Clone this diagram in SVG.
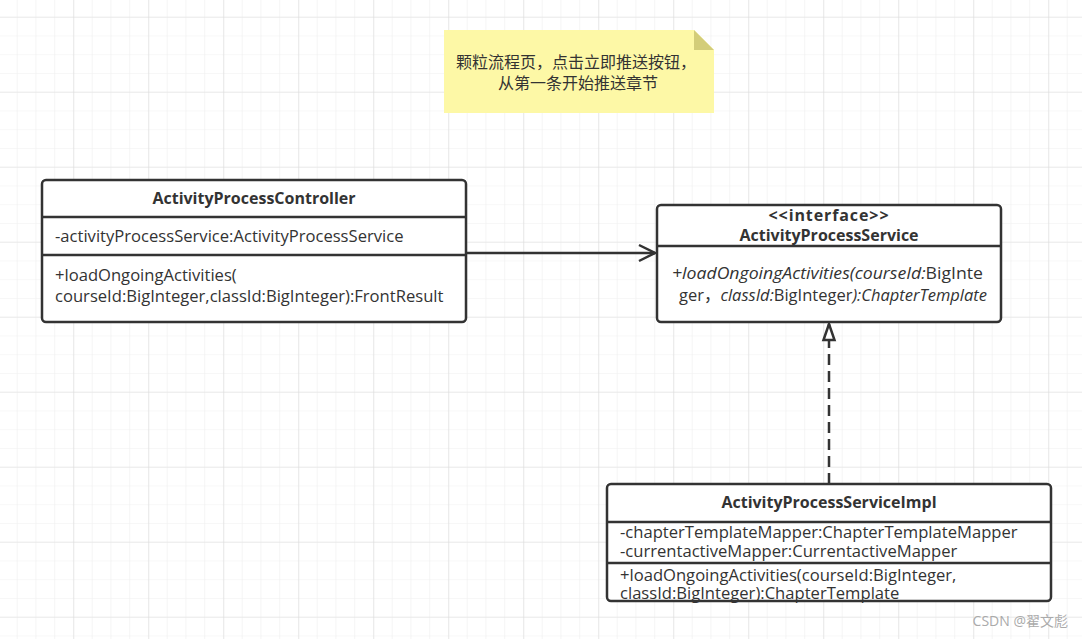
<svg xmlns="http://www.w3.org/2000/svg" width="1082" height="639" viewBox="0 0 1082 639">
<style>
text{font-family:"Open Sans","Noto Sans CJK SC",sans-serif;fill:#333;font-size:16.6px}
.b{font-weight:bold;font-size:16px}
.i{font-style:italic}
.n{font-size:16px}
.box{fill:#fff;stroke:#333;stroke-width:2.5}
.ln{stroke:#333;stroke-width:2.5;fill:none}
</style>
<defs>
<pattern id="minor" x="-2.05" y="-2.05" width="18.75" height="18.75" patternUnits="userSpaceOnUse">
<path d="M0 0H18.75M0 0V18.75" stroke="#efefef" stroke-width="1.2" fill="none"/>
</pattern>
<pattern id="major" x="-1.7" y="16.7" width="75" height="75" patternUnits="userSpaceOnUse">
<path d="M0 0H75M0 0V75" stroke="#dedede" stroke-width="1.2" fill="none"/>
</pattern>
<marker id="open" viewBox="0 0 20 20" refX="18" refY="10" markerWidth="20" markerHeight="20" markerUnits="userSpaceOnUse" orient="auto">
<path d="M2 2L18 10L2 18" fill="none" stroke="#333" stroke-width="2.5"/>
</marker>
<marker id="tri" viewBox="0 0 20 20" refX="18" refY="10" markerWidth="20" markerHeight="20" markerUnits="userSpaceOnUse" orient="auto">
<path d="M2 4.5L18 10L2 15.5Z" fill="#fff" stroke="#333" stroke-width="2.5"/>
</marker>
</defs>
<rect width="1082" height="639" fill="#fff"/>
<rect width="1082" height="639" fill="url(#minor)"/>
<rect width="1082" height="639" fill="url(#major)"/>

<g id="note">
<path d="M444 30H694L714 50V113H444Z" fill="#fdf8a6"/>
<path d="M694 30L714 50H694Z" fill="#d3cd79"/>
<text class="n" x="576" y="68" text-anchor="middle">颗粒流程页，点击立即推送按钮，</text>
<text class="n" x="578" y="89" text-anchor="middle">从第一条开始推送章节</text>
</g>

<g id="connectors">
<path class="ln" d="M467 253H655" marker-end="url(#open)"/>
<path class="ln" d="M829 484V324" stroke-width="3" stroke-dasharray="11 6" marker-end="url(#tri)"/>
</g>

<g id="ActivityProcessController">
<rect class="box" x="42" y="180" width="424" height="142" rx="4"/>
<path class="ln" d="M42 217H466M42 255H466"/>
<text class="b" x="254" y="204" text-anchor="middle">ActivityProcessController</text>
<text x="55" y="242">-activityProcessService:ActivityProcessService</text>
<text x="55" y="281">+loadOngoingActivities(</text>
<text x="55" y="302">courseId:BigInteger,classId:BigInteger):FrontResult</text>
</g>

<g id="ActivityProcessService">
<rect class="box" x="657" y="205" width="344" height="117" rx="4"/>
<path class="ln" d="M657 246H1001"/>
<text class="b" x="829" y="221" text-anchor="middle" letter-spacing="0.9">&lt;&lt;interface&gt;&gt;</text>
<text class="b" x="829" y="241" text-anchor="middle">ActivityProcessService</text>
<text x="672" y="279" textLength="311" lengthAdjust="spacingAndGlyphs"><tspan class="i">+loadOngoingActivities(courseId:</tspan>BigInte</text>
<text x="679" y="301" textLength="308" lengthAdjust="spacingAndGlyphs">ger，<tspan class="i">classId:</tspan>BigInteger<tspan class="i">):ChapterTemplate</tspan></text>
</g>

<g id="ActivityProcessServiceImpl">
<rect class="box" x="607" y="484" width="444" height="117" rx="4"/>
<path class="ln" d="M607 522H1051M607 563H1051"/>
<text class="b" x="829" y="508" text-anchor="middle">ActivityProcessServiceImpl</text>
<text x="620" y="538">-chapterTemplateMapper:ChapterTemplateMapper</text>
<text x="620" y="557">-currentactiveMapper:CurrentactiveMapper</text>
<text x="620" y="581">+loadOngoingActivities(courseId:BigInteger,</text>
<text x="620" y="599">classId:BigInteger):ChapterTemplate</text>
</g>

<text x="1068" y="626" text-anchor="end" style="fill:#aaa;font-size:14px">CSDN @翟文彪</text>
</svg>
